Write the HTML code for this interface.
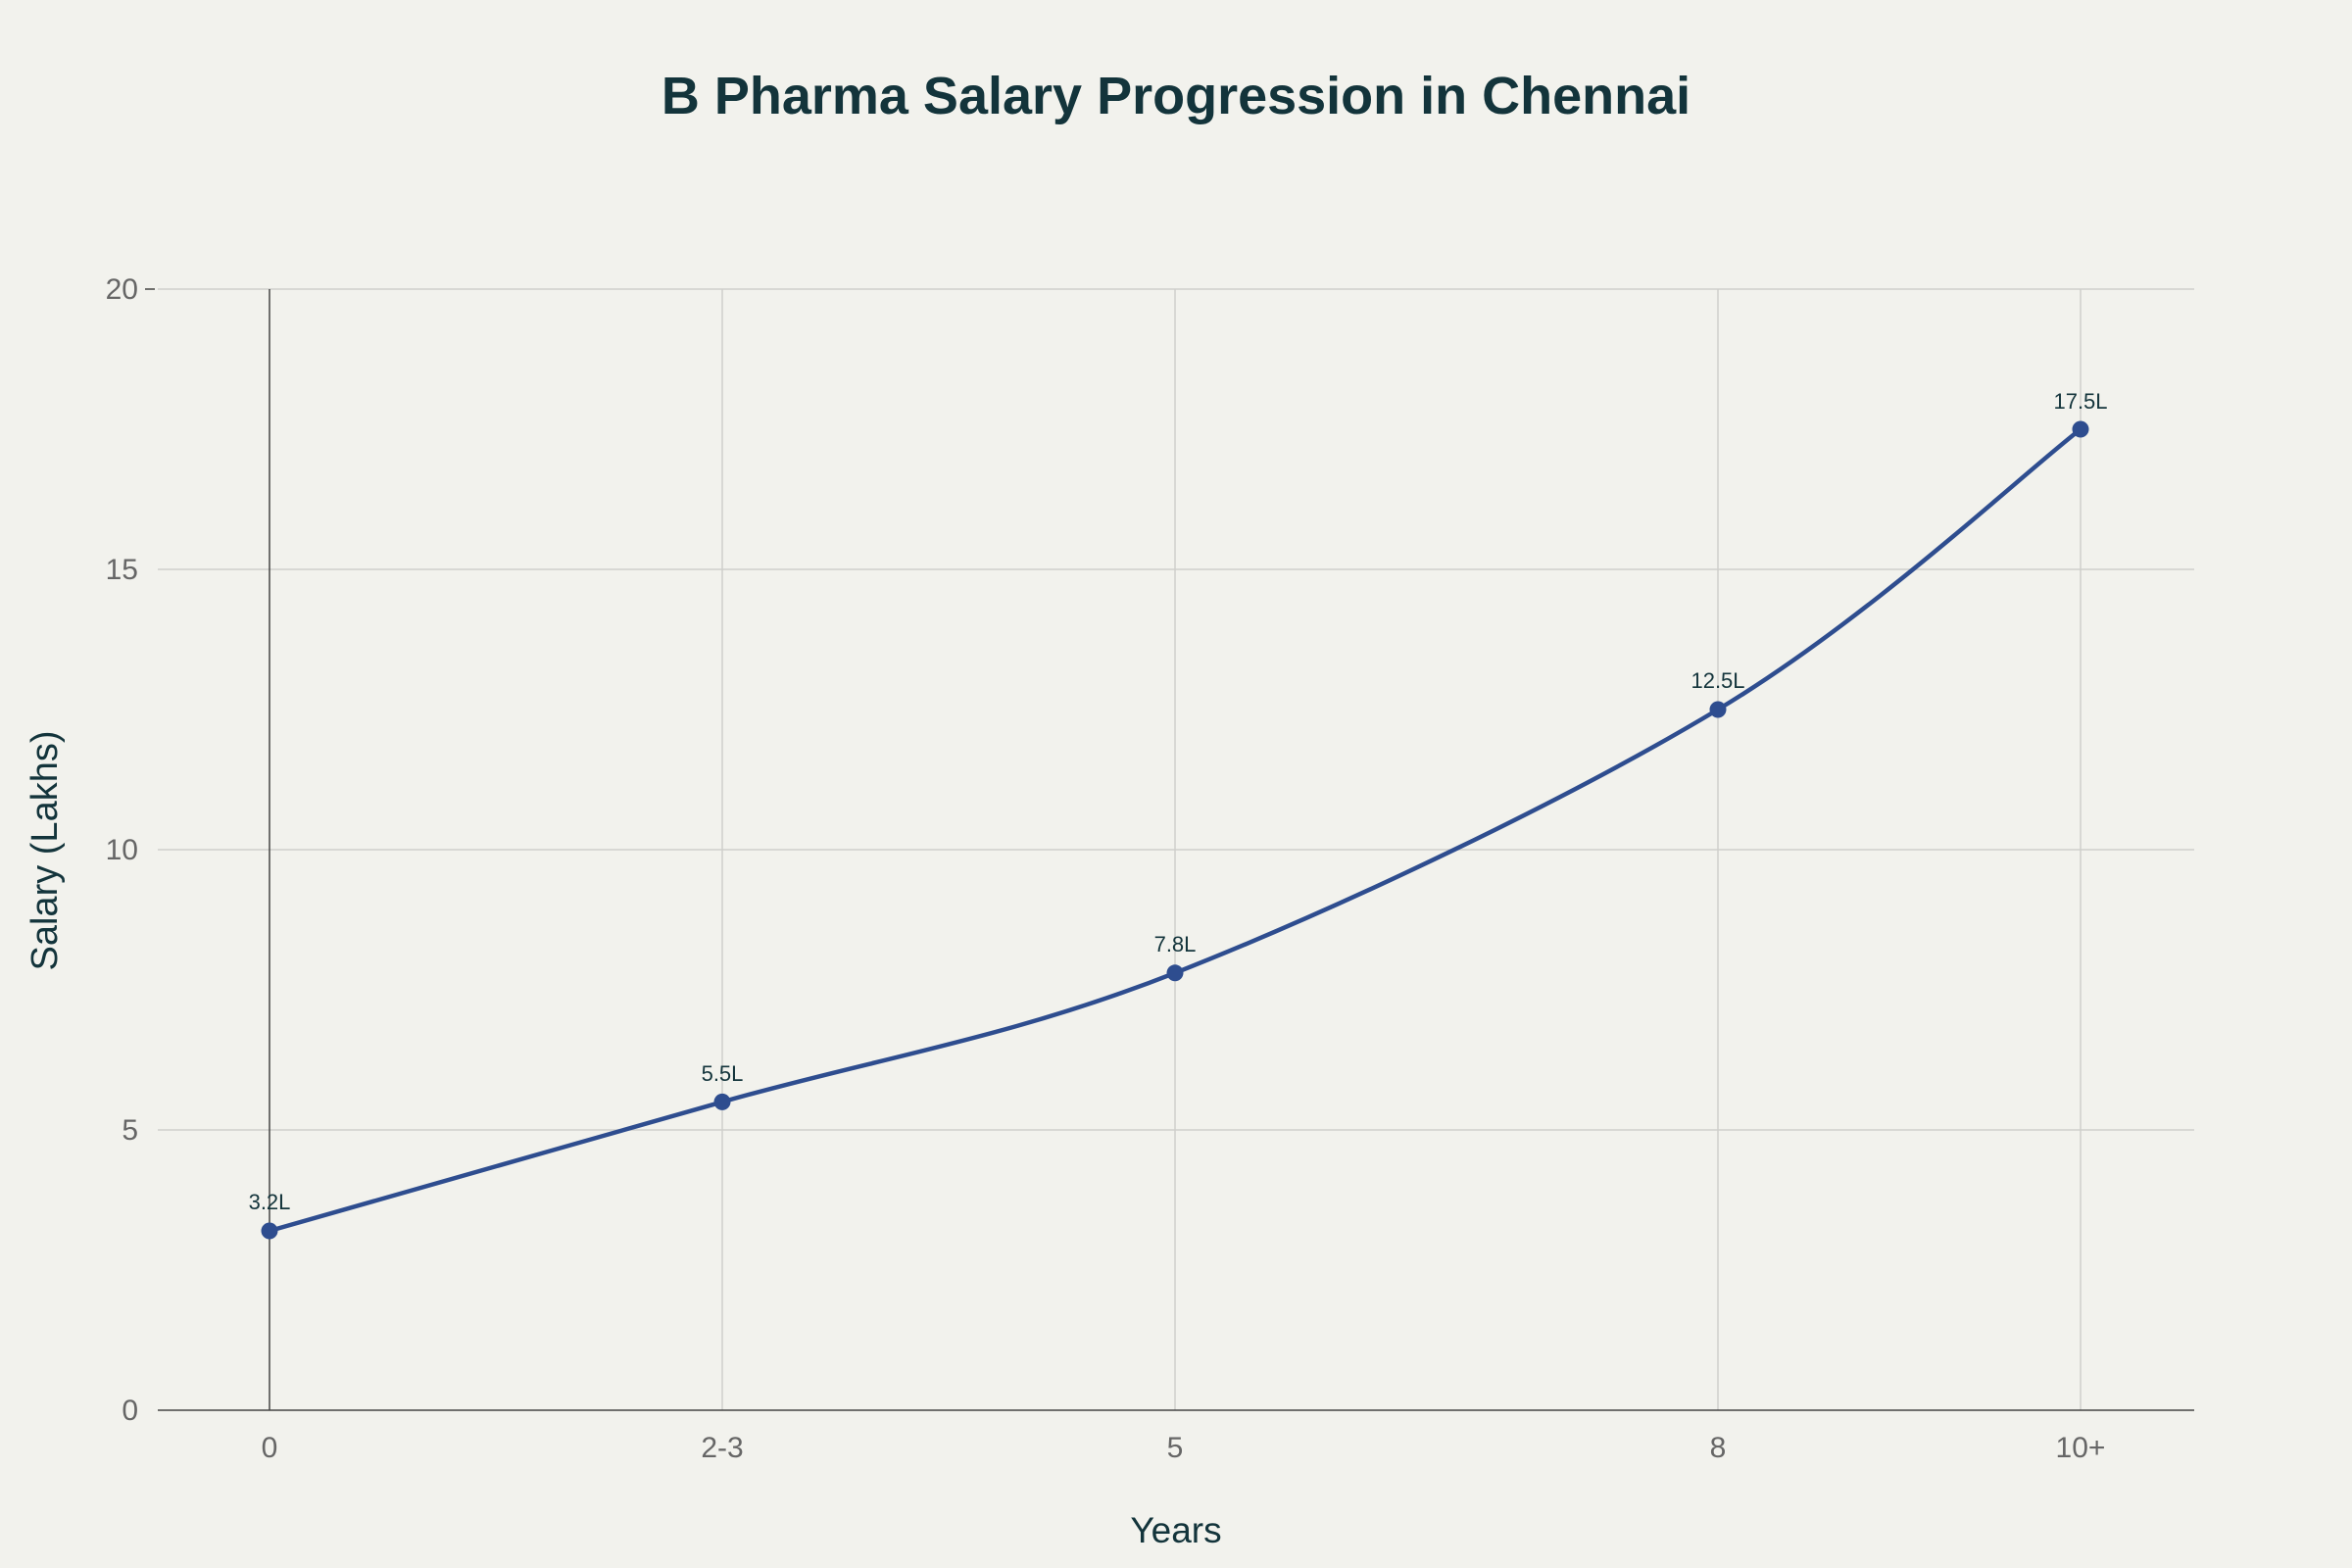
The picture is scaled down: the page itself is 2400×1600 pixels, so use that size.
<!DOCTYPE html>
<html><head><meta charset="utf-8"><style>body{margin:0}svg{display:block}</style></head><body>
<svg width="2400" height="1600" xmlns="http://www.w3.org/2000/svg" font-family="Liberation Sans, sans-serif">
<rect width="2400" height="1600" fill="#f2f2ed"/>
<text x="1200" y="116" text-anchor="middle" font-size="54" font-weight="bold" fill="#13343b">B Pharma Salary Progression in Chennai</text>
<g stroke="#cfcfcb" stroke-width="1.5">
<line x1="161" y1="1153" x2="2239" y2="1153"/>
<line x1="161" y1="867" x2="2239" y2="867"/>
<line x1="161" y1="581" x2="2239" y2="581"/>
<line x1="161" y1="295" x2="2239" y2="295"/>
<line x1="737" y1="295" x2="737" y2="1439"/>
<line x1="1199" y1="295" x2="1199" y2="1439"/>
<line x1="1753" y1="295" x2="1753" y2="1439"/>
<line x1="2123" y1="295" x2="2123" y2="1439"/>
</g>
<g stroke="#444" stroke-width="1.5">
<line x1="275" y1="295" x2="275" y2="1439"/>
<line x1="161" y1="1439" x2="2239" y2="1439"/>
<line x1="148" y1="295" x2="158" y2="295"/>
</g>
<g font-size="30" fill="#666" text-anchor="end">
<text x="141" y="1449">0</text><text x="141" y="1163">5</text><text x="141" y="877">10</text><text x="141" y="591">15</text><text x="141" y="305">20</text>
</g>
<g font-size="30" fill="#666" text-anchor="middle">
<text x="275" y="1487">0</text><text x="737" y="1487">2-3</text><text x="1199" y="1487">5</text><text x="1753" y="1487">8</text><text x="2123" y="1487">10+</text>
</g>
<text x="1200" y="1574" text-anchor="middle" font-size="37" fill="#13343b">Years</text>
<text transform="translate(58,868) rotate(-90)" text-anchor="middle" font-size="38" fill="#13343b">Salary (Lakhs)</text>
<path d="M275,1256 C352,1234 583,1168.3 737,1124.4 C891,1080.5 1029.7,1059.5 1199,992.8 C1368.3,926.1 1599,816.5 1753,724 C1907,631.5 2061.3,485.7 2123,438" fill="none" stroke="#2e4d8f" stroke-width="4.5"/>
<g fill="#2e4d8f">
<circle cx="275" cy="1256" r="8.5"/><circle cx="737" cy="1124.4" r="8.5"/><circle cx="1199" cy="992.8" r="8.5"/><circle cx="1753" cy="724" r="8.5"/><circle cx="2123" cy="438" r="8.5"/>
</g>
<g font-size="22" fill="#13343b" text-anchor="middle">
<text x="275" y="1234">3.2L</text><text x="737" y="1103">5.5L</text><text x="1199" y="971">7.8L</text><text x="1753" y="702">12.5L</text><text x="2123" y="417">17.5L</text>
</g>
</svg>
</body></html>
